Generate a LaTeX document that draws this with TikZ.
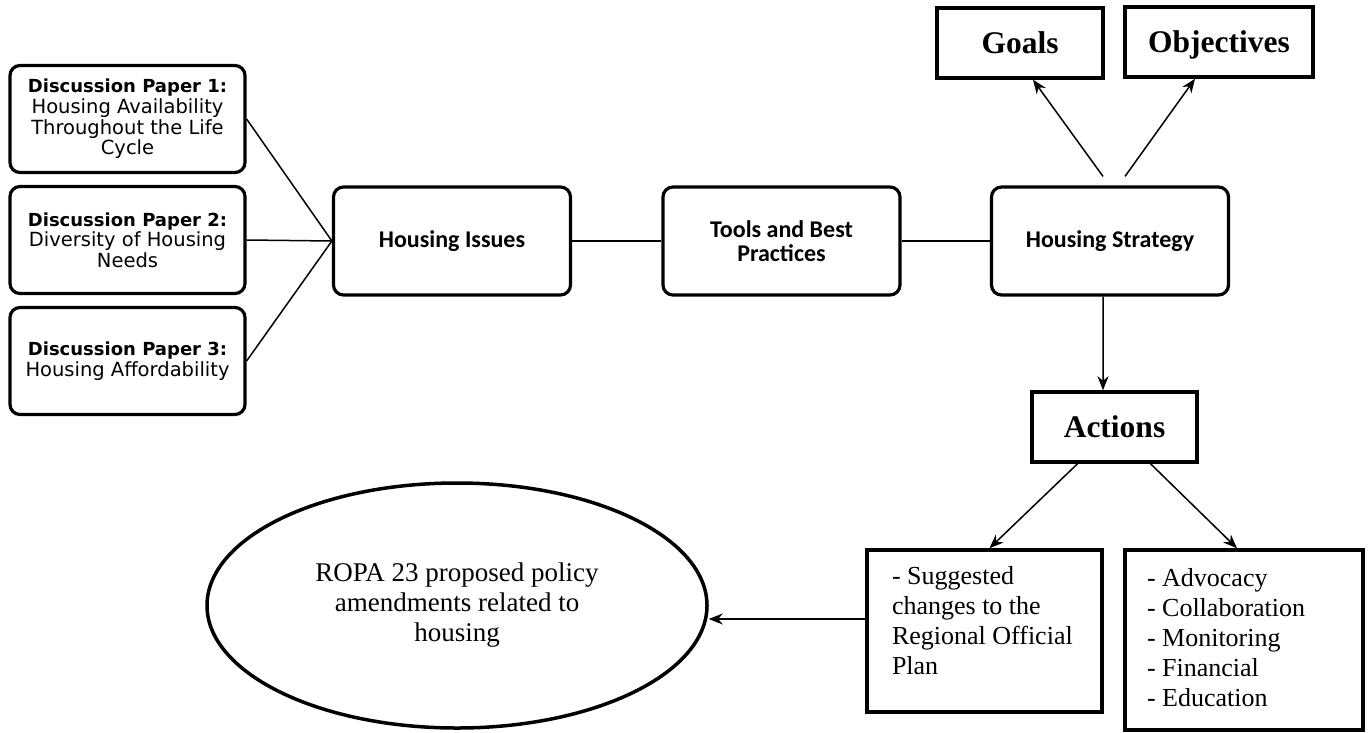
\documentclass[tikz,border=0pt]{standalone}
\usepackage{fontspec}
\setmainfont{Liberation Serif}
\newfontfamily\dpfont{DejaVu Sans}
\newfontfamily\cfont{Carlito}
\usetikzlibrary{shapes.geometric,arrows.meta,calc}
\newcommand{\dphead}[1]{{\fontsize{18bp}{20.7bp}\selectfont\bfseries #1}}
\begin{document}
\begin{tikzpicture}[x=1bp,y=-1bp,
  rbox/.style={draw, line width=3.2bp, rounded corners=10bp, align=center, inner sep=0pt},
  dpbox/.style={rbox, minimum width=235bp, minimum height=107bp, font=\dpfont\fontsize{19.5bp}{20.7bp}\selectfont},
  mbox/.style={rbox, minimum width=237bp, minimum height=108bp, font=\cfont\bfseries\fontsize{24bp}{24bp}\selectfont},
  tbox/.style={draw, line width=3.5bp, inner sep=0pt, minimum height=70bp, text height=21bp, text depth=0bp, font=\bfseries\fontsize{31.5bp}{34bp}\selectfont},
  lbox/.style={draw, line width=3.5bp, inner sep=0pt, font=\fontsize{26bp}{30bp}\selectfont},
  ellbox/.style={draw, ellipse, line width=3.5bp, inner sep=0pt, align=center, font=\fontsize{27bp}{30bp}\selectfont},
  conn/.style={line width=1.5bp},
  arr/.style={conn, -{Stealth[length=14bp,width=11bp]}}
]
\useasboundingbox (0,0) rectangle (1369,732);
\node[dpbox] (dp1) at (127.5,119) {\dphead{Discussion Paper 1:}\\Housing Availability\\Throughout the Life\\Cycle};
\node[dpbox] (dp2) at (127.5,240) {\dphead{Discussion Paper 2:}\\Diversity of Housing\\Needs};
\node[dpbox] (dp3) at (127.5,361) {\dphead{Discussion Paper 3:}\\Housing Affordability};
\node[mbox] (hi) at (452,241) {Housing Issues};
\node[mbox] (tools) at (781.5,241) {Tools and Best\\Practices};
\node[mbox] (hs) at (1110,241) {Housing Strategy};
\node[tbox, minimum width=166bp] (goals) at (1020,43) {Goals};
\node[tbox, minimum width=188bp] (obj) at (1219,42) {Objectives};
\node[tbox, minimum width=165bp] (act) at (1114.5,427) {Actions};
\node[lbox, minimum width=235bp, minimum height=162bp] (sug) at (984.5,631)
  {\parbox[c][136bp][t]{185bp}{\raggedright\strut - Suggested\\changes to the\\Regional Official\\Plan}};
\node[lbox, minimum width=238bp, minimum height=180bp] (adv) at (1244,640)
  {\parbox{194bp}{\raggedright\strut - Advocacy\\- Collaboration\\- Monitoring\\- Financial\\- Education\strut}};
\node[ellbox, minimum width=500bp, minimum height=245bp] (ell) at (457,605.5)
  {ROPA 23 proposed policy\\amendments related to\\housing};
\draw[conn] (dp1.east) -- (hi.west);
\draw[conn] (dp2.east) -- (hi.west);
\draw[conn] (dp3.east) -- (hi.west);
\draw[conn] (hi.east) -- (tools.west);
\draw[conn] (tools.east) -- (hs.west);
\coordinate (g0) at ([xshift=-7bp,yshift=9bp]hs.north);
\coordinate (o0) at ([xshift=15bp,yshift=9bp]hs.north);
\draw[arr] (g0) -- ([xshift=13bp]goals.south);
\draw[arr] (o0) -- ([xshift=-24bp]obj.south);
\draw[arr] ([xshift=-7bp]hs.south) -- ([xshift=-11.5bp]act.north);
\draw[arr] ([xshift=-37bp]act.south) -- ([xshift=5bp]sug.north);
\draw[arr] ([xshift=36bp]act.south) -- ([xshift=-7bp]adv.north);
\coordinate (s0) at ([yshift=12bp]sug.west);
\draw[arr] (s0) -- (s0 -| ell.east);
\end{tikzpicture}
\end{document}
